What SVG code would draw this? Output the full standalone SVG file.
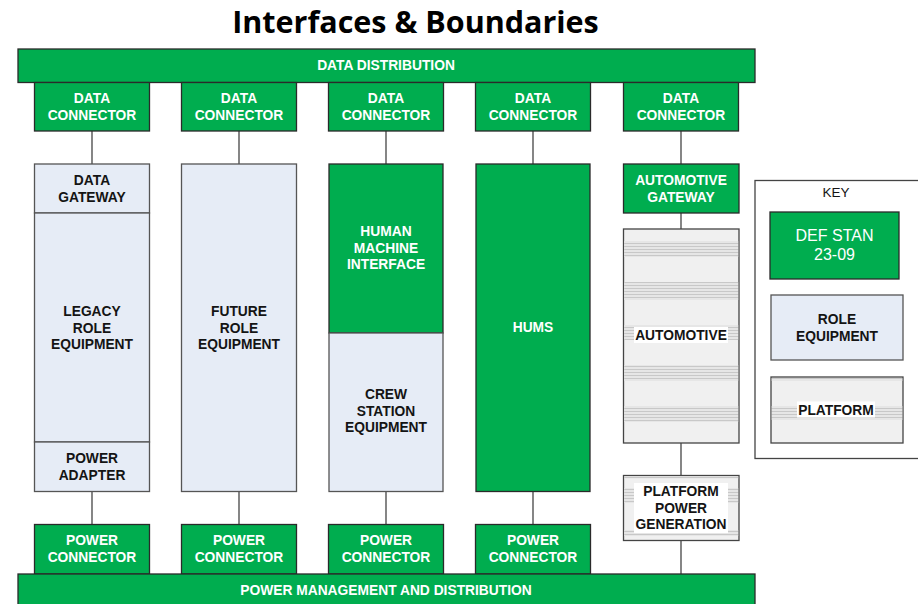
<svg xmlns="http://www.w3.org/2000/svg" width="918" height="604" viewBox="0 0 918 604">
<style>
.g{fill:#00ad4f;stroke:#2a2a2a;stroke-width:1.3}
.b{fill:#e6ecf6;stroke:#555;stroke-width:1.3}
.p{fill:#f0f0f0;stroke:#444;stroke-width:1.3}
.tw{font-family:"Liberation Sans",Arial,sans-serif;font-weight:bold;font-size:13.8px;fill:#fff;text-anchor:middle}
.td{font-family:"Liberation Sans",Arial,sans-serif;font-weight:bold;font-size:13.8px;fill:#141414;text-anchor:middle}
.ln{stroke:#444;stroke-width:1.3;fill:none}
.band{fill:url(#stripes)}
</style>
<defs>
<pattern id="stripes" width="6" height="3" patternUnits="userSpaceOnUse">
<rect width="6" height="3" fill="#e6e6e6"/>
<rect width="6" height="1" fill="#c8c8c8"/>
</pattern>
</defs>
<text x="415.5" y="33" font-family="'Open Sans','Liberation Sans',sans-serif" font-weight="bold" font-size="30.5" text-anchor="middle" fill="#000">Interfaces &amp; Boundaries</text>

<g id="connectors">
<line class="ln" x1="92" y1="131" x2="92" y2="164"/>
<line class="ln" x1="239" y1="131" x2="239" y2="164"/>
<line class="ln" x1="386" y1="131" x2="386" y2="164"/>
<line class="ln" x1="533" y1="131" x2="533" y2="164"/>
<line class="ln" x1="681" y1="131" x2="681" y2="164"/>
<line class="ln" x1="681" y1="213" x2="681" y2="229"/>
<line class="ln" x1="681" y1="443" x2="681" y2="475"/>
<line class="ln" x1="681" y1="540" x2="681" y2="574"/>
<line class="ln" x1="92" y1="491" x2="92" y2="524"/>
<line class="ln" x1="239" y1="491" x2="239" y2="524"/>
<line class="ln" x1="386" y1="491" x2="386" y2="524"/>
<line class="ln" x1="533" y1="491" x2="533" y2="524"/>
</g>

<g id="data-distribution">
<rect class="g" x="18" y="49" width="737" height="33.5"/>
<text class="tw" x="386" y="70">DATA DISTRIBUTION</text>
</g>

<g id="data-connector-1"><rect class="g" x="34.5" y="82.5" width="115" height="48.5"/><text class="tw" x="92" y="103">DATA</text><text class="tw" x="92" y="119.5">CONNECTOR</text></g>
<g id="data-connector-2"><rect class="g" x="181.5" y="82.5" width="115" height="48.5"/><text class="tw" x="239" y="103">DATA</text><text class="tw" x="239" y="119.5">CONNECTOR</text></g>
<g id="data-connector-3"><rect class="g" x="328.5" y="82.5" width="115" height="48.5"/><text class="tw" x="386" y="103">DATA</text><text class="tw" x="386" y="119.5">CONNECTOR</text></g>
<g id="data-connector-4"><rect class="g" x="475.5" y="82.5" width="115" height="48.5"/><text class="tw" x="533" y="103">DATA</text><text class="tw" x="533" y="119.5">CONNECTOR</text></g>
<g id="data-connector-5"><rect class="g" x="623.5" y="82.5" width="115" height="48.5"/><text class="tw" x="681" y="103">DATA</text><text class="tw" x="681" y="119.5">CONNECTOR</text></g>

<g id="data-gateway"><rect class="b" x="34.5" y="164" width="115" height="49"/><text class="td" x="92" y="185">DATA</text><text class="td" x="92" y="201.5">GATEWAY</text></g>
<g id="legacy-role"><rect class="b" x="34.5" y="213" width="115" height="229"/><text class="td" x="92" y="316">LEGACY</text><text class="td" x="92" y="332.5">ROLE</text><text class="td" x="92" y="349">EQUIPMENT</text></g>
<g id="power-adapter"><rect class="b" x="34.5" y="442" width="115" height="49.5"/><text class="td" x="92" y="463">POWER</text><text class="td" x="92" y="479.5">ADAPTER</text></g>

<g id="future-role"><rect class="b" x="181.5" y="164" width="115" height="327.5"/><text class="td" x="239" y="316">FUTURE</text><text class="td" x="239" y="332.5">ROLE</text><text class="td" x="239" y="349">EQUIPMENT</text></g>

<g id="hmi"><rect class="g" x="329" y="164" width="114" height="169"/><text class="tw" x="386" y="236">HUMAN</text><text class="tw" x="386" y="252.5">MACHINE</text><text class="tw" x="386" y="269">INTERFACE</text></g>
<g id="crew-station"><rect class="b" x="329" y="333" width="114" height="158.5"/><text class="td" x="386" y="399">CREW</text><text class="td" x="386" y="415.5">STATION</text><text class="td" x="386" y="432">EQUIPMENT</text></g>

<g id="hums"><rect class="g" x="476" y="164" width="114" height="327.5"/><text class="tw" x="533" y="332">HUMS</text></g>

<g id="automotive-gateway"><rect class="g" x="623.5" y="164" width="115.5" height="49"/><text class="tw" x="681" y="185">AUTOMOTIVE</text><text class="tw" x="681" y="201.5">GATEWAY</text></g>

<g id="automotive">
<rect class="p" x="623.5" y="229" width="115.5" height="214"/>
<rect class="band" x="624.2" y="241" width="114" height="16"/>
<rect class="band" x="624.2" y="282" width="114" height="18"/>
<rect class="band" x="624.2" y="325" width="114" height="15"/>
<rect class="band" x="624.2" y="365" width="114" height="16"/>
<rect class="band" x="624.2" y="406" width="114" height="16"/>
<rect x="634" y="327" width="94" height="16" fill="#fff"/>
<text class="td" x="681" y="340">AUTOMOTIVE</text>
</g>

<g id="platform-power-generation">
<rect class="p" x="623.5" y="475.5" width="115.5" height="65"/>
<rect class="band" x="624.2" y="476.5" width="114" height="2"/>
<rect class="band" x="624.2" y="488" width="114" height="15"/>
<rect class="band" x="624.2" y="530" width="114" height="6"/>
<rect x="634" y="483" width="94" height="50" fill="#fff"/>
<text class="td" x="681" y="496">PLATFORM</text><text class="td" x="681" y="512.5">POWER</text><text class="td" x="681" y="529">GENERATION</text>
</g>

<g id="power-connector-1"><rect class="g" x="34.5" y="524.5" width="115" height="49.5"/><text class="tw" x="92" y="545">POWER</text><text class="tw" x="92" y="561.5">CONNECTOR</text></g>
<g id="power-connector-2"><rect class="g" x="181.5" y="524.5" width="115" height="49.5"/><text class="tw" x="239" y="545">POWER</text><text class="tw" x="239" y="561.5">CONNECTOR</text></g>
<g id="power-connector-3"><rect class="g" x="328.5" y="524.5" width="115" height="49.5"/><text class="tw" x="386" y="545">POWER</text><text class="tw" x="386" y="561.5">CONNECTOR</text></g>
<g id="power-connector-4"><rect class="g" x="475.5" y="524.5" width="115" height="49.5"/><text class="tw" x="533" y="545">POWER</text><text class="tw" x="533" y="561.5">CONNECTOR</text></g>

<g id="power-management">
<rect class="g" x="18" y="574" width="737" height="32"/>
<text class="tw" x="386" y="595">POWER MANAGEMENT AND DISTRIBUTION</text>
</g>

<g id="key">
<rect x="755" y="180.5" width="170" height="278" fill="#fff" stroke="#444" stroke-width="1.3"/>
<text x="836" y="197" font-family="'Liberation Sans',Arial,sans-serif" font-size="13.5" text-anchor="middle" fill="#141414">KEY</text>
<rect class="g" x="770" y="212" width="129" height="67"/>
<text x="834.5" y="241" font-family="'Liberation Sans',Arial,sans-serif" font-size="16" text-anchor="middle" fill="#fff">DEF STAN</text>
<text x="834.5" y="260" font-family="'Liberation Sans',Arial,sans-serif" font-size="16" text-anchor="middle" fill="#fff">23-09</text>
<rect class="b" x="771" y="295" width="132" height="65"/>
<text class="td" x="837" y="324">ROLE</text><text class="td" x="837" y="340.5">EQUIPMENT</text>
<rect class="p" x="771" y="377" width="132" height="66"/>
<rect class="band" x="771.7" y="378" width="130.6" height="3"/>
<rect class="band" x="771.7" y="406" width="130.6" height="14"/>
<rect x="797" y="401.5" width="78" height="16" fill="#fff"/>
<text class="td" x="836" y="414.5">PLATFORM</text>
</g>
</svg>
